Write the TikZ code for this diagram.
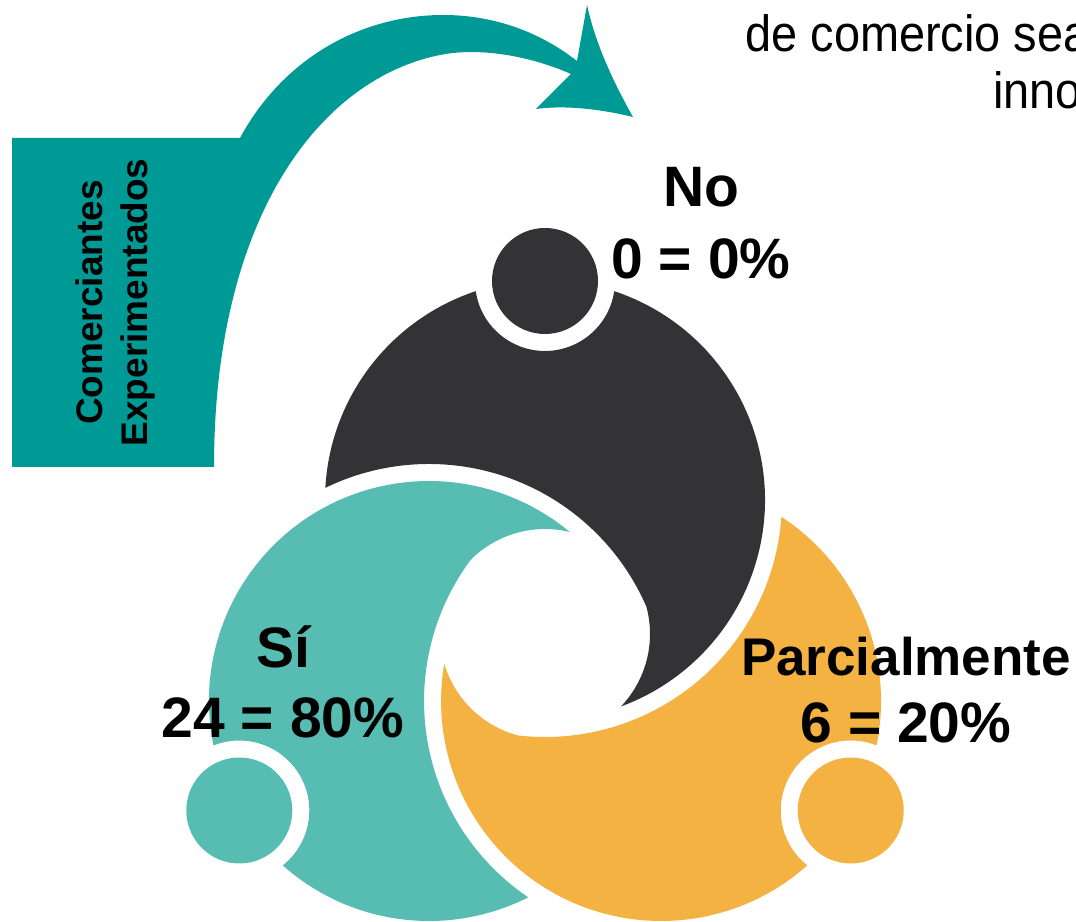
\documentclass[tikz,border=0pt]{standalone}
\usepackage{fontspec}
\setmainfont{Liberation Sans}
\definecolor{arrowteal}{HTML}{009A96}
\definecolor{bodydark}{HTML}{333335}
\definecolor{bodyteal}{HTML}{57BDB2}
\definecolor{bodyorange}{HTML}{F3B242}
\begin{document}
\begin{tikzpicture} [x=0.5pt,y=0.5pt]
\tikzstyle{lbl}=[align=center,inner sep=0pt]
\tikzstyle{quote}=[anchor=base west,inner sep=0pt,xscale=0.92,font=\fontsize{25.5}{29}\selectfont]
\useasboundingbox (0,0) rectangle (1076,921);
\fill[arrowteal] (12,454) -- (12,783) -- (240,783)
	.. controls (285,866) and (365,906) .. (443,906)
	.. controls (500,906) and (545,885) .. (577,860)
	-- (587,916) .. controls (595,880) and (610,845) .. (633,804)
	.. controls (600,812) and (565,816) .. (536,812) -- (571,847)
	.. controls (530,865) and (480,874) .. (440,866)
	.. controls (320,842) and (214,704) .. (214,454)
	-- cycle;
\foreach \ang/\col in {0/bodydark,120/bodyteal,240/bodyorange}{
\begin{scope}[shift={(545,287)},rotate=\ang]
\fill[\col] ([shift={(176.8:220)}]0,134)
	arc[start angle=176.8,end angle=108.35,radius=220]
	arc[start angle=188.38,end angle=351.62,radius=70]
	arc[start angle=71.65,end angle=-69.79,radius=220]
	arc[start angle=-43.64,end angle=15.04,radius=105]
	arc[start angle=23.43,end angle=115.91,radius=237] -- cycle;
\fill[\col] (0,353) circle (53);
\end{scope}
}
\node at(115,618.5) (tag) [lbl,rotate=90,font=\bfseries\fontsize{18.5}{22.5}\selectfont]{Comerciantes\\Experimentados};
\node at(701,698) (no) [lbl,font=\bfseries\fontsize{28.5}{35.75}\selectfont]{No\\0 = 0\%};
\node at(283,239.2) (si) [lbl,font=\bfseries\fontsize{28.5}{35}\selectfont]{Sí\\24 = 80\%};
\node at(906,230.8) (parcial) [lbl,font=\bfseries\fontsize{28.5}{33.5}\selectfont]{{\fontsize{26.5}{33.5}\selectfont Parcialmente}\\6 = 20\%};
\node at(745,869.3) (q1) [quote]{de comercio sea};
\node at(993,812) (q2) [quote]{inno};
\end{tikzpicture}
\end{document}
